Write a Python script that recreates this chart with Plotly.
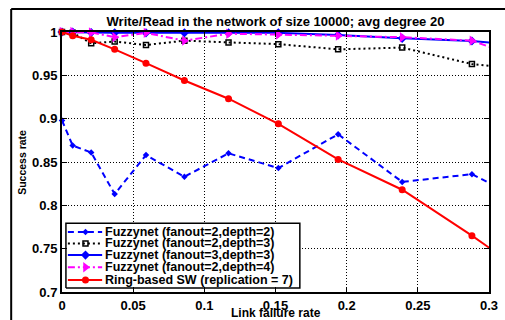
import plotly.graph_objects as go

# ---------------- data ----------------
x_rate = [0, 0.0075, 0.0205, 0.037, 0.059, 0.086, 0.117, 0.152, 0.194, 0.239, 0.288, 0.342]
fz_2_2 = [0.898, 0.869, 0.861, 0.813, 0.858, 0.833, 0.860, 0.843, 0.882, 0.827, 0.836, 0.791]
fz_2_3 = [1.0, 0.999, 0.987, 0.989, 0.985, 0.990, 0.988, 0.986, 0.980, 0.982, 0.963, 0.954]
fz_3_3 = [1.0, 1.0, 0.9995, 0.999, 0.999, 0.999, 0.999, 0.999, 0.9966, 0.9927, 0.9897, 0.982]
fz_2_4 = [1.0, 1.0, 0.9995, 0.994, 0.999, 0.990, 0.998, 0.997, 0.9958, 0.994, 0.990, 0.959]
ring_sw = [1.0, 0.9957, 0.991, 0.980, 0.964, 0.944, 0.923, 0.894, 0.853, 0.818, 0.765, 0.703]

names = [
    "Fuzzynet (fanout=2,depth=2)",
    "Fuzzynet (fanout=2,depth=3)",
    "Fuzzynet (fanout=3,depth=3)",
    "Fuzzynet (fanout=2,depth=4)",
    "Ring-based SW (replication = 7)",
]
series = [fz_2_2, fz_2_3, fz_3_3, fz_2_4, ring_sw]

x_ticks = [0, 0.05, 0.1, 0.15, 0.2, 0.25, 0.3]
y_ticks = [0.7, 0.75, 0.8, 0.85, 0.9, 0.95, 1]

title_text = "Write/Read in the network of size 10000; avg degree 20"
x_title = "Link failure rate"
y_title = "Success rate"

# ---------------- styles ----------------
FONT = "Liberation Sans"
styles = [
    dict(color="#0000ff", dash="6px,4px", width=2, symbol="diamond", msize=5, mline=0),
    dict(color="#000000", dash="2px,3px", width=2, symbol="square-open", msize=5, mline=1.5),
    dict(color="#0000ff", dash="solid", width=2, symbol="diamond", msize=7, mline=0),
    dict(color="#ff00ff", dash="7px,3px,2px,3px", width=2, symbol="triangle-right", msize=9, mline=0),
    dict(color="#ff0000", dash="solid", width=2, symbol="circle", msize=7, mline=0),
]

fig = go.Figure()
n = len(x_rate)
for name, ys, st in zip(names, series, styles):
    fig.add_trace(go.Scatter(
        x=x_rate, y=ys, mode="lines+markers", name=name, showlegend=False,
        line=dict(color=st["color"], width=st["width"], dash=st["dash"]),
        marker=dict(symbol=st["symbol"], size=st["msize"], color=st["color"],
                    opacity=[1] * (n - 1) + [0],
                    line=dict(color=st["color"], width=st["mline"])),
        cliponaxis=False,
    ))

# ---------------- custom legend (overlay axes in paper-like units) ----------------
bx0, bx1, by0, by1 = 0.0092, 0.557, 0.0153, 0.264
fig.add_trace(go.Scatter(
    x=[bx0, bx1, bx1, bx0, bx0], y=[by0, by0, by1, by1, by0],
    mode="lines", fill="toself", fillcolor="white",
    line=dict(color="black", width=1.5), xaxis="x2", yaxis="y2",
    showlegend=False, hoverinfo="skip",
))
row_y = [0.231, 0.187, 0.142, 0.095, 0.046]
lx0, lx1, lxm, tx = 0.0138, 0.094, 0.055, 0.0986
for name, st, ry in zip(names, styles, row_y):
    fig.add_trace(go.Scatter(
        x=[lx0, lx1], y=[ry, ry], mode="lines", xaxis="x2", yaxis="y2",
        line=dict(color=st["color"], width=st["width"], dash=st["dash"]),
        showlegend=False, hoverinfo="skip",
    ))
    fig.add_trace(go.Scatter(
        x=[lxm], y=[ry], mode="markers", xaxis="x2", yaxis="y2",
        marker=dict(symbol=st["symbol"], size=st["msize"], color=st["color"],
                    line=dict(color=st["color"], width=st["mline"])),
        showlegend=False, hoverinfo="skip",
    ))
    fig.add_annotation(x=tx, y=ry, xref="paper", yref="paper", text="<b>%s</b>" % name,
                       showarrow=False, xanchor="left", yanchor="middle", borderpad=0,
                       font=dict(family=FONT, size=12.5, color="black"))

axis_common = dict(
    showline=True, linecolor="black", linewidth=2, mirror="ticks",
    ticks="inside", ticklen=5, tickcolor="black", tickwidth=1,
    showgrid=True, gridcolor="black", gridwidth=1, griddash="1px,2px",
    zeroline=False, ticklabeloverflow="allow",
    tickfont=dict(family=FONT, size=13, color="black", weight="bold"),
)

fig.update_layout(
    width=505, height=320,
    margin=dict(l=62, r=7, t=32, b=27),
    paper_bgcolor="white", plot_bgcolor="white",
    showlegend=False,
    title=dict(text="<b>%s</b>" % title_text, x=0.5, xref="paper", xanchor="center",
               y=1 - 21 / 320, yref="container", yanchor="middle",
               font=dict(family=FONT, size=13, color="black")),
    xaxis=dict(range=[0, 0.3], tickvals=x_ticks, **axis_common),
    yaxis=dict(range=[0.7, 1], tickvals=y_ticks, **axis_common),
    xaxis2=dict(overlaying="x", range=[0, 1], visible=False),
    yaxis2=dict(overlaying="y", range=[0, 1], visible=False),
)

# axis titles
fig.add_annotation(x=0.5, y=-0.08, xref="paper", yref="paper", text="<b>%s</b>" % x_title,
                   showarrow=False, xanchor="center", yanchor="middle", borderpad=0,
                   font=dict(family=FONT, size=12, color="black"))
fig.add_annotation(x=-0.094, y=0.5, xref="paper", yref="paper", text="<b>%s</b>" % y_title,
                   showarrow=False, xanchor="center", yanchor="middle", textangle=-90,
                   font=dict(family=FONT, size=10.5, color="black"))

# outer figure frame (left and top edges visible)
fig.add_shape(type="line", xref="paper", yref="paper", x0=-0.119, x1=-0.119, y0=-0.2, y1=1.088,
              line=dict(color="black", width=2), layer="above")
fig.add_shape(type="line", xref="paper", yref="paper", x0=-0.119, x1=1.2, y0=1.088, y1=1.088,
              line=dict(color="black", width=2), layer="above")

fig.write_html("out.html")
